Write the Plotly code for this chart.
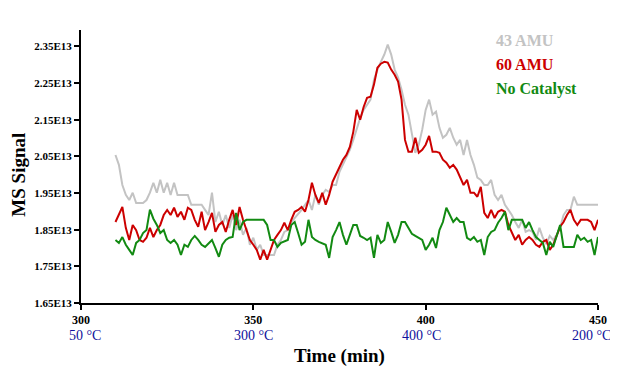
import plotly.graph_objects as go

# time axis (min), one reading per minute
time = list(range(310, 451))

# MS signal, in units of 1E13
amu43 = [
    2.054, 2.027, 1.972, 1.945, 1.931, 1.951, 1.923, 1.923, 1.923, 1.931,
    1.951, 1.978, 1.951, 1.986, 1.951, 1.978, 1.945, 1.978, 1.945, 1.945,
    1.945, 1.945, 1.918, 1.918, 1.918, 1.918, 1.904, 1.890, 1.951, 1.871,
    1.899, 1.863, 1.890, 1.855, 1.890, 1.849, 1.877, 1.836, 1.855, 1.809,
    1.828, 1.795, 1.809, 1.781, 1.781, 1.781, 1.781, 1.809, 1.822, 1.844,
    1.849, 1.871, 1.882, 1.890, 1.904, 1.918, 1.931, 1.904, 1.945, 1.918,
    1.945, 1.959, 1.953, 1.972, 1.972, 2.008, 2.027, 2.046, 2.068, 2.095,
    2.128, 2.155, 2.177, 2.191, 2.205, 2.259, 2.287, 2.308, 2.328, 2.355,
    2.328, 2.287, 2.265, 2.232, 2.191, 2.164, 2.109, 2.060, 2.082, 2.123,
    2.177, 2.205, 2.164, 2.172, 2.128, 2.101, 2.109, 2.128, 2.101, 2.082,
    2.095, 2.054, 2.095, 2.054, 2.027, 1.992, 1.986, 1.972, 1.972, 1.986,
    1.945, 1.931, 1.945, 1.918, 1.904, 1.890, 1.871, 1.855, 1.877, 1.844,
    1.849, 1.844, 1.822, 1.855, 1.828, 1.811, 1.833, 1.822, 1.836, 1.855,
    1.890, 1.904, 1.904, 1.940, 1.918, 1.918, 1.918, 1.918, 1.918, 1.918,
    1.918,
]

amu60 = [
    1.871, 1.890, 1.912, 1.855, 1.822, 1.863, 1.849, 1.822, 1.817, 1.828,
    1.855, 1.830, 1.849, 1.863, 1.890, 1.904, 1.890, 1.910, 1.885, 1.899,
    1.877, 1.910, 1.904, 1.877, 1.858, 1.899, 1.849, 1.871, 1.896, 1.844,
    1.863, 1.871, 1.844, 1.877, 1.904, 1.863, 1.912, 1.877, 1.849, 1.822,
    1.809, 1.795, 1.768, 1.795, 1.768, 1.795, 1.822, 1.836, 1.849, 1.869,
    1.849, 1.877, 1.899, 1.904, 1.912, 1.899, 1.931, 1.978, 1.945, 1.923,
    1.951, 1.918, 1.945, 1.981, 2.000, 2.019, 2.041, 2.054, 2.076, 2.117,
    2.177, 2.150, 2.185, 2.210, 2.213, 2.246, 2.292, 2.303, 2.308, 2.306,
    2.287, 2.273, 2.254, 2.205, 2.095, 2.063, 2.063, 2.101, 2.060, 2.068,
    2.082, 2.106, 2.063, 2.063, 2.060, 2.041, 2.033, 2.019, 2.027, 2.014,
    1.992, 1.972, 1.986, 1.951, 1.951, 1.940, 1.967, 1.896, 1.882, 1.904,
    1.882, 1.899, 1.904, 1.899, 1.863, 1.844, 1.822, 1.836, 1.809, 1.822,
    1.830, 1.822, 1.809, 1.803, 1.817, 1.822, 1.795, 1.809, 1.836, 1.858,
    1.871, 1.890, 1.904, 1.877, 1.863, 1.877, 1.877, 1.877, 1.871, 1.849,
    1.877,
]

no_catalyst = [
    1.822, 1.814, 1.830, 1.809, 1.795, 1.781, 1.814, 1.822, 1.841, 1.849,
    1.905, 1.880, 1.863, 1.841, 1.849, 1.822, 1.814, 1.822, 1.809, 1.781,
    1.809, 1.803, 1.822, 1.833, 1.822, 1.809, 1.803, 1.814, 1.822, 1.800,
    1.776, 1.809, 1.822, 1.828, 1.830, 1.896, 1.849, 1.871, 1.877, 1.877,
    1.877, 1.877, 1.877, 1.877, 1.863, 1.822, 1.822, 1.803, 1.814, 1.817,
    1.822, 1.863, 1.871, 1.841, 1.809, 1.817, 1.877, 1.830, 1.822, 1.817,
    1.814, 1.809, 1.773, 1.830, 1.849, 1.871, 1.836, 1.809, 1.836, 1.863,
    1.863, 1.833, 1.828, 1.822, 1.828, 1.773, 1.836, 1.814, 1.822, 1.871,
    1.844, 1.814, 1.836, 1.871, 1.871, 1.855, 1.839, 1.833, 1.828, 1.822,
    1.795, 1.809, 1.828, 1.800, 1.849, 1.871, 1.910, 1.890, 1.871, 1.882,
    1.871, 1.871, 1.828, 1.822, 1.830, 1.817, 1.822, 1.781, 1.830, 1.844,
    1.849, 1.869, 1.882, 1.899, 1.849, 1.877, 1.877, 1.877, 1.877, 1.855,
    1.871, 1.849, 1.830, 1.822, 1.814, 1.781, 1.817, 1.803, 1.836, 1.863,
    1.803, 1.803, 1.803, 1.803, 1.836, 1.822, 1.828, 1.817, 1.822, 1.781,
    1.830,
]

y_ticks = [1.65, 1.75, 1.85, 1.95, 2.05, 2.15, 2.25, 2.35]
y_labels = ["1.65E13", "1.75E13", "1.85E13", "1.95E13", "2.05E13", "2.15E13", "2.25E13", "2.35E13"]
x_ticks = [300, 350, 400, 450]
temps = ["50 °C", "300 °C", "400 °C", "200 °C"]
temp_shift = [4, 0, -4, -7]

series = [("43 AMU", amu43, "#c3c3c3"), ("60 AMU", amu60, "#cc0000"), ("No Catalyst", no_catalyst, "#128a12")]

FONT = "Liberation Serif"
fig = go.Figure()
for name, vals, col in series:
    fig.add_trace(go.Scatter(x=time, y=vals, mode="lines", name=name,
                             line=dict(color=col, width=2)))

# legend drawn as coloured text, like the original
for i, (name, vals, col) in enumerate(series):
    fig.add_annotation(text=f"<b>{name}</b>", x=0.799, y=0.963 - i * 0.09, xref="paper", yref="paper",
                       xanchor="left", yanchor="middle", showarrow=False,
                       font=dict(family=FONT, size=16, color=col))

for t, lbl, sh in zip(x_ticks, temps, temp_shift):
    fig.add_annotation(text=lbl, x=t, y=-0.12, xref="x", yref="paper", xanchor="center", yanchor="middle",
                       xshift=sh, showarrow=False, font=dict(family=FONT, size=14, color="#10109c"))

fig.add_annotation(text="<b>Time (min)</b>", x=0.5, y=-0.195, xref="paper", yref="paper",
                   xanchor="center", yanchor="middle", showarrow=False, font=dict(family=FONT, size=19, color="black"))
fig.add_annotation(text="<b>MS Signal</b>", x=-0.12, y=0.47, xref="paper", yref="paper", textangle=-90,
                   xanchor="center", yanchor="middle", showarrow=False, font=dict(family=FONT, size=19, color="black"))

# page body adds an 8px margin, so the figure is 8px smaller to fit the window
fig.update_layout(
    width=610, height=365,
    margin=dict(l=73, r=20, t=22, b=70),
    plot_bgcolor="white", paper_bgcolor="white",
    showlegend=False,
    font=dict(family=FONT, color="black"),
)
fig.update_xaxes(range=[300, 450], tickvals=x_ticks, ticktext=[f"<b>{v}</b>" for v in x_ticks],
                 showgrid=False, zeroline=False, showline=True, linecolor="black", linewidth=2,
                 ticks="outside", ticklen=5, tickwidth=2, tickcolor="black",
                 tickfont=dict(family=FONT, size=12))
fig.update_yaxes(range=[1.65, 2.395], tickvals=y_ticks, ticktext=[f"<b>{s}</b>" for s in y_labels],
                 showgrid=False, zeroline=False, showline=True, linecolor="black", linewidth=2,
                 ticks="outside", ticklen=5, tickwidth=2, tickcolor="black",
                 tickfont=dict(family=FONT, size=11))

fig.write_html("out.html")
